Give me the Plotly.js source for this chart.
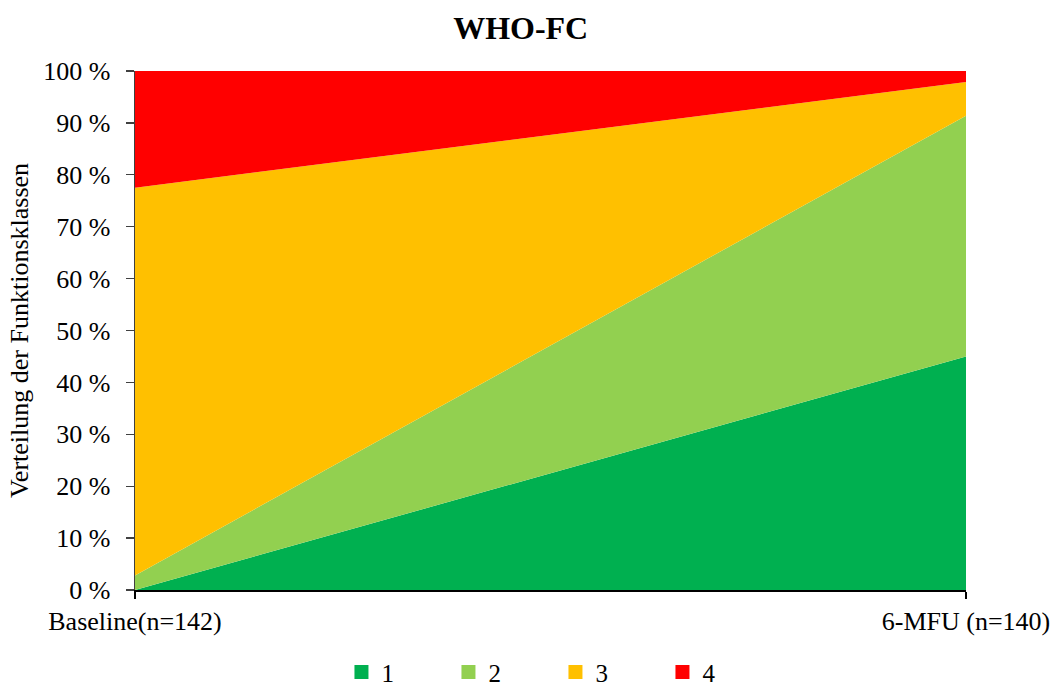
<!DOCTYPE html>
<html>
<head>
<meta charset="utf-8">
<script src="https://cdn.plot.ly/plotly-3.0.1.min.js"></script>
<style>html,body{margin:0;padding:0;background:#fff;}#chart{width:1054px;height:686px;}</style>
</head>
<body>
<div id="chart"></div>
<script>
var categories = ["Baseline(n=142)", "6-MFU (n=140)"];
var classNames = ["1", "2", "3", "4"];
var class1 = [0, 45.0];
var class2 = [2.8, 46.4];
var class3 = [74.7, 6.5];
var class4 = [22.5, 2.1];
var colors = ["#00B050", "#92D050", "#FFC000", "#FF0000"];
var yTicks = [0, 10, 20, 30, 40, 50, 60, 70, 80, 90, 100];
var yTickLabels = yTicks.map(function (v) { return v + " %"; });

var xPos = categories.map(function (c, i) { return i; });
var series = [class1, class2, class3, class4];
var traces = series.map(function (vals, k) {
  return {
    x: xPos, y: vals, name: classNames[k], type: "scatter", mode: "none",
    stackgroup: "one", fillcolor: colors[k], line: {width: 0},
    showlegend: false, hoverinfo: "y+name"
  };
});
// legend-only square markers
series.forEach(function (vals, k) {
  traces.push({
    x: [null], y: [null], name: classNames[k], type: "scatter", mode: "markers",
    marker: {symbol: "square", size: 14, color: colors[k]}, showlegend: true
  });
});

var fam = "Liberation Serif";
var layout = {
  width: 1054, height: 686,
  margin: {l: 135, r: 88, t: 71, b: 96},
  paper_bgcolor: "#fff", plot_bgcolor: "#fff",
  font: {family: fam, size: 26, color: "#000"},
  title: {text: "<b>WHO-FC</b>", x: 0.494, xref: "container", y: 0.96, yref: "container", yanchor: "middle", font: {family: fam, size: 32, color: "#000"}},
  showlegend: true,
  legend: {orientation: "h", x: 0.527, xref: "container", xanchor: "center", y: 0.02, yref: "container", yanchor: "middle",
           entrywidth: 62, entrywidthmode: "pixels", traceorder: "normal",
           font: {family: fam, size: 25, color: "#000"}},
  xaxis: {
    range: [0, 1], tickvals: xPos, ticktext: categories,
    showgrid: false, zeroline: false, showline: true, linecolor: "#000", linewidth: 1.5,
    ticks: "outside", ticklen: 7, tickcolor: "#000", tickwidth: 1.3,
    tickfont: {family: fam, size: 26, color: "#000"}, fixedrange: true
  },
  yaxis: {
    range: [0, 100], tickvals: yTicks, ticktext: yTickLabels,
    showgrid: false, zeroline: false, showline: true, linecolor: "#404040", linewidth: 1.5,
    ticks: "outside", ticklen: 8, tickcolor: "#404040", tickwidth: 1.3, ticklabelstandoff: 10,
    tickfont: {family: fam, size: 26, color: "#000"},
    title: {text: "Verteilung der Funktionsklassen", standoff: 7, font: {family: fam, size: 26, color: "#000"}},
    fixedrange: true
  }
};
Plotly.newPlot("chart", traces, layout, {displayModeBar: false, staticPlot: true});
</script>
</body>
</html>
